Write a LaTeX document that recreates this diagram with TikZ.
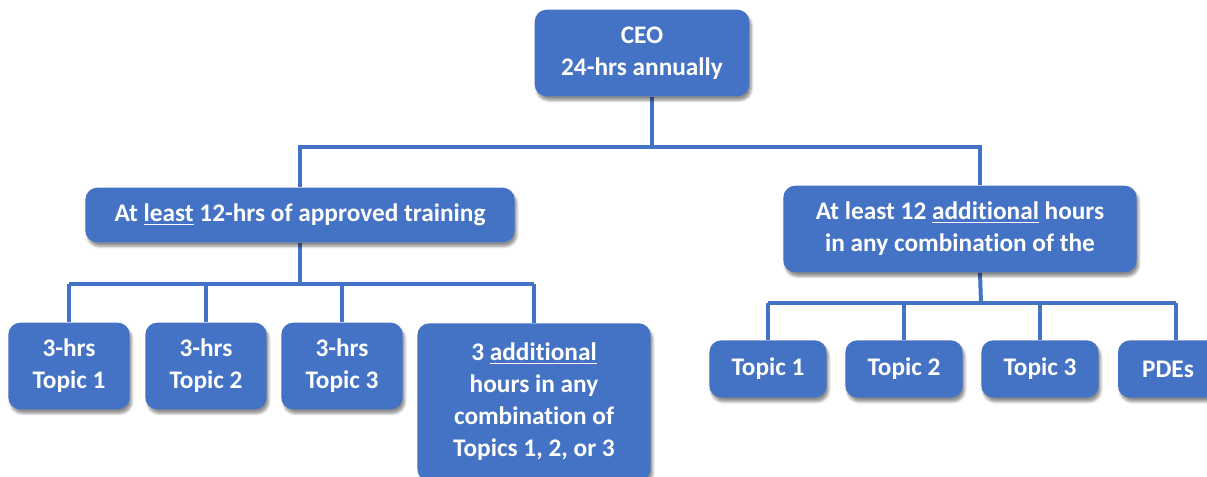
\documentclass[tikz,border=0pt]{standalone}
\usepackage{fontspec}
\setmainfont{Carlito}[Ligatures={NoCommon}]
\usetikzlibrary{shadows.blur,backgrounds}
\definecolor{boxblue}{HTML}{4472C4}
\tikzset{
	box/.style={fill=boxblue,rounded corners=9pt,text=white,align=center,inner sep=2pt,
		font=\bfseries\fontsize{19}{24}\selectfont,
		blur shadow={shadow xshift=1.5pt,shadow yshift=-3pt,shadow blur steps=6,shadow opacity=45}},
	link/.style={draw=boxblue,line width=3pt,line join=miter}
}
\begin{document}
\begin{tikzpicture}[x=0.75pt,y=-0.75pt]
	\useasboundingbox (0,0) rectangle (1207,477);
	\clip (0,0) rectangle (1207,477);
	% top and middle level
	\node[box,minimum width=161pt,minimum height=65pt] (ceo) at (642,53) {CEO\\24-hrs annually};
	\node[box,minimum width=322pt,minimum height=41pt] (least) at (300,215) {At \underline{least} 12-hrs of approved training};
	\node[box,minimum width=265pt,minimum height=65pt] (extra) at (960,229) {At least 12 \underline{additional} hours\\in any combination of the};
	% left children
	\node[box,minimum width=91pt,minimum height=65pt] (a1) at (69,366) {3-hrs\\Topic 1};
	\node[box,minimum width=91pt,minimum height=65pt] (a2) at (206,366) {3-hrs\\Topic 2};
	\node[box,minimum width=91pt,minimum height=65pt] (a3) at (342,366) {3-hrs\\Topic 3};
	\node[box,minimum width=175pt,minimum height=118pt] (a4) at (534,402) {3 \underline{additional}\\hours in any\\combination of\\Topics 1, 2, or 3};
	% right children
	\node[box,minimum width=88pt,minimum height=43pt] (b1) at (768,369) {Topic 1};
	\node[box,minimum width=88pt,minimum height=43pt] (b2) at (904,369) {Topic 2};
	\node[box,minimum width=88pt,minimum height=43pt] (b3) at (1040,369) {Topic 3};
	\node[box,minimum width=75pt,minimum height=43pt] (b4) at (1168,369) {PDEs};
	% connectors
	\coordinate (topbus) at (652,147);
	\coordinate (lbus) at (300,284);
	\coordinate (rbus) at (981,303);
	\begin{scope}[on background layer]
		\draw[link] (ceo.south -| topbus) -- (topbus);
		\draw[link] (least.north) |- (topbus) -| ([xshift=15pt]extra.north);
		\draw[link] (least.south) -- (lbus);
		\draw[link] (lbus -| a1.north) -- (lbus -| a4.north);
		\foreach \k in {a1,a2,a3,a4}
			\draw[link] (lbus -| \k.north) -- (\k.north);
		\draw[link] ([xshift=15pt]extra.south) -- (rbus);
		\draw[link] (rbus -| b1.north) -- (rbus -| {1176,0});
		\foreach \k in {b1,b2,b3}
			\draw[link] (rbus -| \k.north) -- (\k.north);
		\draw[link] (rbus -| {1176,0}) -- ([xshift=6pt]b4.north);
	\end{scope}
\end{tikzpicture}
\end{document}
